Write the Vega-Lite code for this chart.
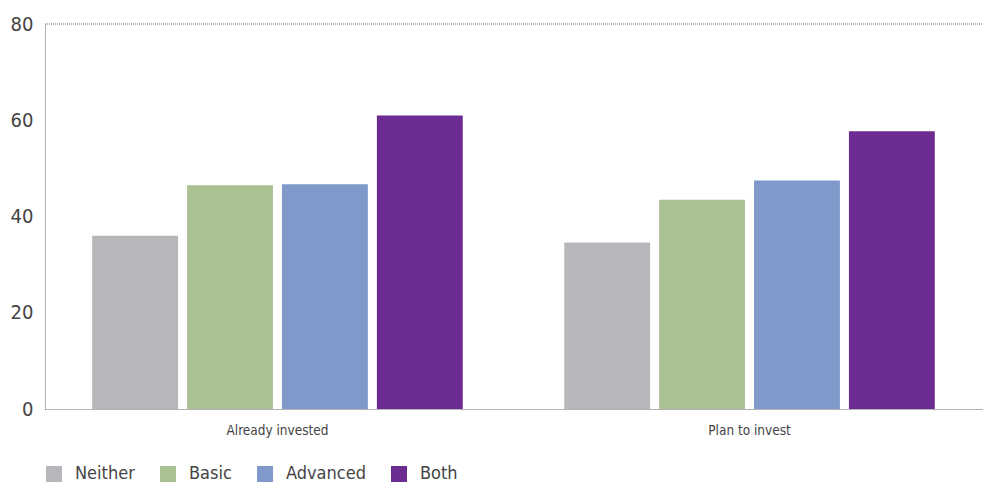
{
  "$schema": "https://vega.github.io/schema/vega-lite/v6.json",
  "width": 983,
  "height": 487,
  "autosize": {"type": "fit", "contains": "padding"},
  "padding": {"left": 10, "right": 0, "top": 14, "bottom": 4},
  "background": "white",
  "config": {
    "font": "DejaVu Sans Condensed, Roboto Condensed, Liberation Sans, sans-serif",
    "view": {"stroke": null}
  },
  "data": {
    "values": [
      {"group": "Already invested", "type": "Neither", "value": 36.0},
      {"group": "Already invested", "type": "Basic", "value": 46.5},
      {"group": "Already invested", "type": "Advanced", "value": 46.7},
      {"group": "Already invested", "type": "Both", "value": 61.0},
      {"group": "Plan to invest", "type": "Neither", "value": 34.6},
      {"group": "Plan to invest", "type": "Basic", "value": 43.5},
      {"group": "Plan to invest", "type": "Advanced", "value": 47.5},
      {"group": "Plan to invest", "type": "Both", "value": 57.7}
    ]
  },
  "layer": [
    {
      "mark": {"type": "bar"},
      "encoding": {
        "x": {
          "field": "group", "type": "nominal",
          "scale": {"paddingInner": 0.215, "paddingOuter": 0.1},
          "axis": {
            "title": null, "labelAngle": 0, "ticks": false,
            "labelFontSize": 13.5, "labelColor": "#444", "labelPadding": 14,
            "domainColor": "#666", "domainDash": [1, 1], "domainWidth": 1
          }
        },
        "xOffset": {
          "field": "type", "type": "nominal",
          "sort": ["Neither", "Basic", "Advanced", "Both"],
          "scale": {"paddingInner": 0.095, "paddingOuter": 0}
        },
        "y": {
          "field": "value", "type": "quantitative",
          "scale": {"domain": [0, 80]},
          "axis": {
            "title": null, "values": [0, 20, 40, 60, 80], "grid": false, "ticks": false,
            "labelFontSize": 20, "labelColor": "#444", "labelPadding": 12,
            "domainColor": "#666", "domainDash": [1, 1], "domainWidth": 1
          }
        },
        "color": {
          "field": "type", "type": "nominal",
          "sort": ["Neither", "Basic", "Advanced", "Both"],
          "scale": {
            "domain": ["Neither", "Basic", "Advanced", "Both"],
            "range": ["#b6b7bb", "#aac194", "#8099cb", "#6d2c91"]
          },
          "legend": {
            "title": null, "orient": "bottom", "direction": "horizontal",
            "symbolType": "square", "symbolSize": 256, "symbolStrokeWidth": 0,
            "labelFontSize": 18, "labelColor": "#444", "labelOffset": 12,
            "columnPadding": 24, "offset": 28
          }
        }
      }
    },
    {
      "data": {"values": [{"v": 80}]},
      "mark": {"type": "rule", "color": "#666", "strokeDash": [1, 1], "strokeWidth": 1},
      "encoding": {"y": {"field": "v", "type": "quantitative"}}
    }
  ]
}
